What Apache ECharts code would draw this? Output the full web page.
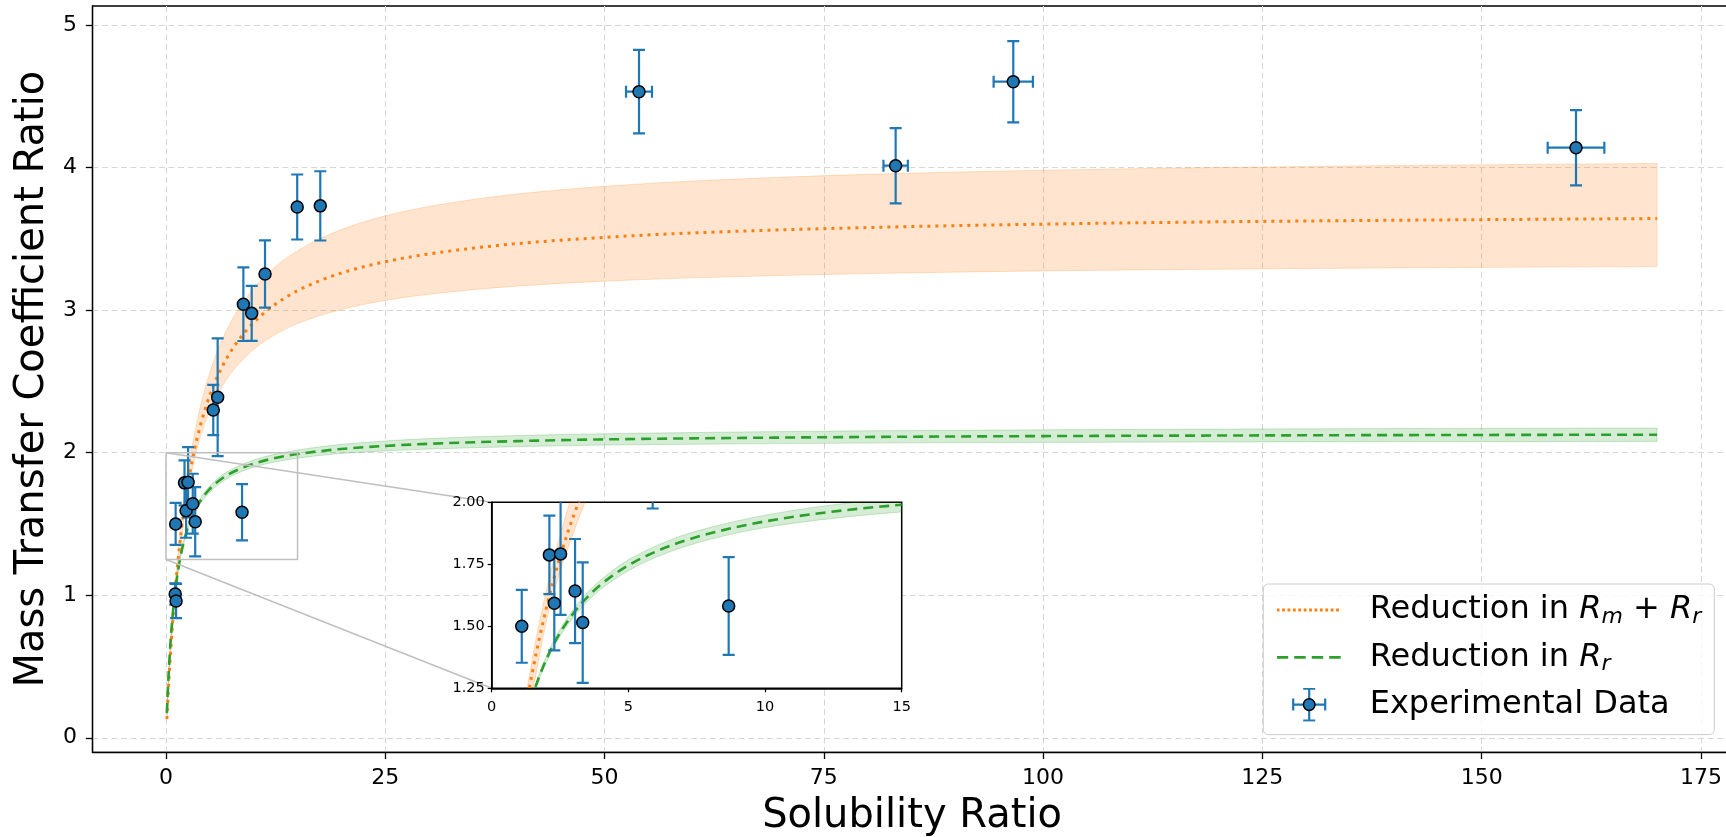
<!DOCTYPE html>
<html>
<head>
<meta charset="utf-8">
<script src="https://cdn.jsdelivr.net/npm/echarts@6/dist/echarts.min.js"></script>
<style>
html, body { margin: 0; padding: 0; background: #ffffff; }
#chart { width: 1726px; height: 837px; }
</style>
</head>
<body>
<div id="chart"></div>
<script>
// ---------------- data ----------------
const curveX  = [0.1, 0.25, 0.5, 0.75, 1, 1.5, 2, 2.5, 3, 3.5, 4, 5, 6, 7, 8, 10, 12, 15, 20, 25, 30, 40, 50, 60, 80, 100, 120, 140, 170];
const rmMid   = [0.132, 0.314, 0.578, 0.804, 1.000, 1.321, 1.574, 1.779, 1.947, 2.089, 2.209, 2.403, 2.552, 2.670, 2.766, 2.913, 3.020, 3.136, 3.260, 3.339, 3.394, 3.466, 3.510, 3.541, 3.579, 3.603, 3.619, 3.630, 3.642];
const rmUpper = [0.134, 0.322, 0.596, 0.830, 1.035, 1.377, 1.645, 1.866, 2.050, 2.208, 2.343, 2.563, 2.733, 2.870, 2.982, 3.154, 3.280, 3.417, 3.565, 3.661, 3.727, 3.814, 3.868, 3.905, 3.952, 3.981, 4.000, 4.014, 4.029];
const rmLower = [0.128, 0.300, 0.548, 0.760, 0.950, 1.235, 1.520, 1.720, 1.880, 2.020, 2.127, 2.295, 2.422, 2.522, 2.602, 2.724, 2.811, 2.905, 3.004, 3.068, 3.111, 3.168, 3.203, 3.226, 3.256, 3.275, 3.287, 3.296, 3.305];
const rMid    = [0.174, 0.388, 0.656, 0.854, 1.005, 1.221, 1.367, 1.474, 1.554, 1.618, 1.669, 1.746, 1.801, 1.843, 1.875, 1.923, 1.956, 1.990, 2.026, 2.047, 2.062, 2.081, 2.093, 2.100, 2.110, 2.116, 2.120, 2.123, 2.126];
const rUpper  = [0.178, 0.393, 0.662, 0.861, 1.013, 1.231, 1.379, 1.488, 1.570, 1.636, 1.688, 1.768, 1.824, 1.867, 1.899, 1.948, 1.983, 2.019, 2.058, 2.082, 2.099, 2.120, 2.133, 2.141, 2.153, 2.160, 2.165, 2.169, 2.173];
const rLower  = [0.170, 0.383, 0.650, 0.847, 0.997, 1.211, 1.355, 1.460, 1.538, 1.600, 1.650, 1.724, 1.778, 1.819, 1.851, 1.898, 1.929, 1.961, 1.994, 2.012, 2.025, 2.042, 2.053, 2.059, 2.067, 2.072, 2.075, 2.077, 2.079];

const pointX    = [1.05, 1.15, 1.10, 2.11, 2.29, 2.52, 3.05, 3.33, 5.39, 5.89, 8.67, 8.82, 9.77, 11.29, 14.96, 17.59, 53.93, 83.19, 96.60, 160.76];
const pointY    = [1.008, 0.959, 1.500, 1.788, 1.593, 1.792, 1.642, 1.515, 2.299, 2.388, 1.582, 3.041, 2.977, 3.253, 3.723, 3.731, 4.532, 4.013, 4.602, 4.139];
const pointYErr = [0.075, 0.120, 0.147, 0.158, 0.190, 0.246, 0.210, 0.243, 0.176, 0.413, 0.197, 0.258, 0.193, 0.236, 0.228, 0.243, 0.293, 0.264, 0.285, 0.264];
const pointXErr = [0, 0, 0, 0, 0, 0, 0, 0, 0, 0, 0, 0, 0, 0, 0, 0, 1.48, 1.39, 2.24, 3.23];

const mainXTicks  = [0, 25, 50, 75, 100, 125, 150, 175];
const mainYTicks  = [0, 1, 2, 3, 4, 5];
const insetXRange = [0, 15];
const insetYRange = [1.25, 2.0];

const NAME_RM  = 'Reduction in Rm + Rr';
const NAME_R   = 'Reduction in Rr';
const NAME_EXP = 'Experimental Data';

// ---------------- styles ----------------
const FONT = 'DejaVu Sans';
const BLUE = '#1f77b4', ORANGE = '#ff7f0e', GREEN = '#2ca02c';
const ORANGE_A = a => 'rgba(255,127,14,' + a + ')';
const GREEN_A  = a => 'rgba(44,160,44,' + a + ')';

function pairs(xs, ys) { return xs.map((x, i) => [x, ys[i]]); }

// smooth monotone cubic through pixel points (rendering only)
function smoothSegs(pts) {
  const n = pts.length, dx = [], s = [], m = [];
  for (let i = 0; i < n - 1; i++) {
    dx[i] = pts[i + 1][0] - pts[i][0];
    s[i] = (pts[i + 1][1] - pts[i][1]) / dx[i];
  }
  m[0] = s[0]; m[n - 1] = s[n - 2];
  for (let i = 1; i < n - 1; i++) {
    if (s[i - 1] * s[i] <= 0) { m[i] = 0; }
    else {
      const w1 = 2 * dx[i] + dx[i - 1], w2 = dx[i] + 2 * dx[i - 1];
      m[i] = (w1 + w2) / (w1 / s[i - 1] + w2 / s[i]);
    }
  }
  let d = '';
  for (let i = 0; i < n - 1; i++) {
    const h = dx[i] / 3;
    d += ' C ' + (pts[i][0] + h) + ' ' + (pts[i][1] + m[i] * h) + ' ' +
         (pts[i + 1][0] - h) + ' ' + (pts[i + 1][1] - m[i + 1] * h) + ' ' +
         pts[i + 1][0] + ' ' + pts[i + 1][1];
  }
  return d;
}
function clipOf(params) {
  const cs = params.coordSys;
  return { type: 'rect', shape: { x: cs.x, y: cs.y, width: cs.width, height: cs.height } };
}

function curveSeries(name, ys, color, width, dash, gi, z) {
  return {
    type: 'custom', name: name, xAxisIndex: gi, yAxisIndex: gi, z: z, silent: true,
    data: pairs(curveX, ys), encode: { x: 0, y: 1 },
    renderItem: function (params, api) {
      if (params.dataIndex !== 0) return null;
      const pts = curveX.map((x, i) => api.coord([x, ys[i]]));
      return { type: 'path', shape: { pathData: 'M ' + pts[0][0] + ' ' + pts[0][1] + smoothSegs(pts) },
        style: { fill: null, stroke: color, lineWidth: width, lineDash: dash, lineCap: 'butt' },
        clipPath: clipOf(params) };
    }
  };
}

function bandSeries(key, upper, lower, colorFn, gi, z) {
  return {
    type: 'custom', name: key + gi, xAxisIndex: gi, yAxisIndex: gi, z: z, silent: true,
    data: pairs(curveX, upper), encode: { x: 0, y: 1 },
    renderItem: function (params, api) {
      if (params.dataIndex !== 0) return null;
      const up = curveX.map((x, i) => api.coord([x, upper[i]]));
      const lo = curveX.map((x, i) => api.coord([x, lower[i]])).reverse();
      const d = 'M ' + up[0][0] + ' ' + up[0][1] + smoothSegs(up) +
                ' L ' + lo[0][0] + ' ' + lo[0][1] + smoothSegs(lo) + ' Z';
      return { type: 'path', shape: { pathData: d },
        style: { fill: colorFn(0.2), stroke: colorFn(0.22), lineWidth: 1 },
        clipPath: clipOf(params) };
    }
  };
}

function errSeries(gi, z) {
  return {
    type: 'custom', name: 'errbars' + gi, xAxisIndex: gi, yAxisIndex: gi, z: z, silent: true,
    data: pointX.map((x, i) => [x, pointY[i], pointXErr[i], pointYErr[i]]),
    encode: { x: 0, y: 1 },
    renderItem: function (params, api) {
      const x = api.value(0), y = api.value(1), xe = api.value(2), ye = api.value(3);
      const st = { stroke: BLUE, lineWidth: 2.2, fill: null };
      const h = 6;
      const ch = [];
      if (ye > 0) {
        const t = api.coord([x, y + ye]), b = api.coord([x, y - ye]);
        ch.push({ type: 'line', shape: { x1: t[0], y1: t[1], x2: b[0], y2: b[1] }, style: st });
        ch.push({ type: 'line', shape: { x1: t[0] - h, y1: t[1], x2: t[0] + h, y2: t[1] }, style: st });
        ch.push({ type: 'line', shape: { x1: b[0] - h, y1: b[1], x2: b[0] + h, y2: b[1] }, style: st });
      }
      if (xe > 0) {
        const l = api.coord([x - xe, y]), r = api.coord([x + xe, y]);
        ch.push({ type: 'line', shape: { x1: l[0], y1: l[1], x2: r[0], y2: r[1] }, style: st });
        ch.push({ type: 'line', shape: { x1: l[0], y1: l[1] - h, x2: l[0], y2: l[1] + h }, style: st });
        ch.push({ type: 'line', shape: { x1: r[0], y1: r[1] - h, x2: r[0], y2: r[1] + h }, style: st });
      }
      return { type: 'group', children: ch, clipPath: clipOf(params) };
    }
  };
}

function scatterSeries(gi, z) {
  return {
    type: 'scatter', name: NAME_EXP, xAxisIndex: gi, yAxisIndex: gi, z: z, silent: true,
    data: pairs(pointX, pointY), symbol: 'circle', symbolSize: 12, clip: true,
    itemStyle: { color: BLUE, borderColor: '#000000', borderWidth: 1.5, opacity: 1 }
  };
}

// legend icons (SVG images)
function svgIcon(body) {
  const s = "<svg xmlns='http://www.w3.org/2000/svg' width='65' height='34' viewBox='0 0 65 34'>" + body + "</svg>";
  return 'image://data:image/svg+xml;charset=utf-8,' + encodeURIComponent(s);
}
const iconDotted = svgIcon("<line x1='0' y1='17' x2='65' y2='17' stroke='" + ORANGE + "' stroke-width='2.8' stroke-dasharray='2.8 2.6'/>");
const iconDashed = svgIcon("<line x1='0' y1='17' x2='65' y2='17' stroke='" + GREEN + "' stroke-width='2.7' stroke-dasharray='11.5 6'/>");
const iconErr = svgIcon(
  "<g stroke='" + BLUE + "' stroke-width='2.2' fill='none'>" +
  "<line x1='32.5' y1='1' x2='32.5' y2='33'/><line x1='26.5' y1='1' x2='38.5' y2='1'/><line x1='26.5' y1='33' x2='38.5' y2='33'/>" +
  "<line x1='16.5' y1='17' x2='48.5' y2='17'/><line x1='16.5' y1='11' x2='16.5' y2='23'/><line x1='48.5' y1='11' x2='48.5' y2='23'/>" +
  "</g><circle cx='32.5' cy='17' r='5.8' fill='" + BLUE + "' stroke='#000' stroke-width='1.5'/>");

const axisBlack = { color: '#000000', width: 1.3 };
const gridLine = { show: true, lineStyle: { color: '#d6d6d6', width: 1, type: [6, 3.5] } };

const option = {
  animation: false,
  backgroundColor: '#ffffff',
  grid: [
    { left: 92.5, top: 6, right: -5.6, bottom: 84.7, show: true, borderColor: '#000000', borderWidth: 1.3,
      backgroundColor: 'transparent', containLabel: false, outerBoundsMode: 'none' },
    { left: 491.7, top: 502.3, width: 410, height: 186, show: true, borderColor: '#000000', borderWidth: 1.5,
      backgroundColor: '#ffffff', containLabel: false, outerBoundsMode: 'none', z: 10 }
  ],
  xAxis: [
    { gridIndex: 0, type: 'value', min: -8.38, max: 178.5,
      axisLine: { show: true, onZero: false, lineStyle: axisBlack },
      axisTick: { show: true, length: 6.7, customValues: mainXTicks, lineStyle: axisBlack },
      axisLabel: { customValues: mainXTicks, fontSize: 22, fontFamily: FONT, color: '#000000', margin: 15 },
      splitLine: gridLine,
      name: 'Solubility Ratio', nameLocation: 'middle', nameGap: 44.5, nameMoveOverlap: false,
      nameTextStyle: { fontSize: 40, fontFamily: FONT, color: '#000000' } },
    { gridIndex: 1, type: 'value', min: insetXRange[0], max: insetXRange[1], interval: 5, z: 11,
      axisLine: { show: true, onZero: false, lineStyle: { color: '#000000', width: 1.5 } },
      axisTick: { show: true, length: 4, lineStyle: { color: '#000000', width: 1.2 } },
      axisLabel: { fontSize: 14.5, fontFamily: FONT, color: '#000000', margin: 11 },
      splitLine: { show: false } }
  ],
  yAxis: [
    { gridIndex: 0, type: 'value', min: -0.102, max: 5.133,
      axisLine: { show: true, onZero: false, lineStyle: axisBlack },
      axisTick: { show: true, length: 6.7, customValues: mainYTicks, lineStyle: axisBlack },
      axisLabel: { customValues: mainYTicks, fontSize: 22, fontFamily: FONT, color: '#000000', margin: 15.5 },
      splitLine: gridLine,
      name: 'Mass Transfer Coefficient Ratio', nameLocation: 'middle', nameGap: 40, nameMoveOverlap: false,
      nameTextStyle: { fontSize: 40, fontFamily: FONT, color: '#000000' } },
    { gridIndex: 1, type: 'value', min: insetYRange[0], max: insetYRange[1], interval: 0.25, z: 11,
      axisLine: { show: true, onZero: false, lineStyle: { color: '#000000', width: 1.5 } },
      axisTick: { show: true, length: 4, lineStyle: { color: '#000000', width: 1.2 } },
      axisLabel: { fontSize: 14.5, fontFamily: FONT, color: '#000000', margin: 7,
        formatter: v => v.toFixed(2) },
      splitLine: { show: false } }
  ],
  legend: {
    orient: 'vertical', left: 1263.3, top: 584, z: 20,
    padding: [8, 13, 12, 13.4], itemGap: 11.3, itemWidth: 65, itemHeight: 34,
    backgroundColor: 'rgba(255,255,255,0.8)', borderColor: '#cccccc', borderWidth: 1, borderRadius: 5,
    selectedMode: false,
    data: [ { name: NAME_RM, icon: iconDotted }, { name: NAME_R, icon: iconDashed }, { name: NAME_EXP, icon: iconErr } ],
    formatter: function (name) {
      if (name === NAME_RM) return 'Reduction in {it|R}{sub|m}{op| + }{it|R}{sub|r}';
      if (name === NAME_R) return 'Reduction in {it|R}{sub|r}';
      return name;
    },
    textStyle: {
      fontSize: 32, fontFamily: FONT, color: '#000000', lineHeight: 36, padding: [0, 0, 0, 23],
      rich: {
        it: { fontStyle: 'italic', fontSize: 32, fontFamily: FONT, color: '#000000', lineHeight: 36 },
        sub: { fontStyle: 'italic', fontSize: 22, fontFamily: FONT, color: '#000000', verticalAlign: 'bottom' },
        op: { fontSize: 32, fontFamily: FONT, color: '#000000', lineHeight: 36 }
      }
    }
  },
  series: [
    // main plot
    bandSeries('bandRm', rmUpper, rmLower, ORANGE_A, 0, 1),
    bandSeries('bandR', rUpper, rLower, GREEN_A, 0, 1),
    curveSeries(NAME_RM, rmMid, ORANGE, 3, [3, 5], 0, 2),
    curveSeries(NAME_R, rMid, GREEN, 2.6, [10, 6], 0, 2),
    errSeries(0, 3),
    scatterSeries(0, 4),
    { type: 'line', name: 'zoomBox', xAxisIndex: 0, yAxisIndex: 0, z: 5, silent: true,
      symbol: 'none', showSymbol: false,
      data: [[insetXRange[0], insetYRange[1]], [insetXRange[1], insetYRange[1]], [insetXRange[1], insetYRange[0]],
             [insetXRange[0], insetYRange[0]], [insetXRange[0], insetYRange[1]]],
      lineStyle: { color: '#bfbfbf', width: 1.5 } },
    // inset
    bandSeries('bandRm', rmUpper, rmLower, ORANGE_A, 1, 12),
    bandSeries('bandR', rUpper, rLower, GREEN_A, 1, 12),
    curveSeries(NAME_RM, rmMid, ORANGE, 3, [3, 5], 1, 13),
    curveSeries(NAME_R, rMid, GREEN, 2.6, [10, 6], 1, 13),
    errSeries(1, 14),
    scatterSeries(1, 15)
  ]
};

const chart = echarts.init(document.getElementById('chart'), null, { renderer: 'canvas' });
chart.setOption(option);

// connector lines between the zoom box and the inset corners
const a1 = chart.convertToPixel({ gridIndex: 0 }, [insetXRange[0], insetYRange[1]]);
const a2 = chart.convertToPixel({ gridIndex: 0 }, [insetXRange[0], insetYRange[0]]);
const b1 = chart.convertToPixel({ gridIndex: 1 }, [insetXRange[0], insetYRange[1]]);
const b2 = chart.convertToPixel({ gridIndex: 1 }, [insetXRange[0], insetYRange[0]]);
chart.setOption({
  graphic: [
    { type: 'line', z: 5, silent: true, shape: { x1: a1[0], y1: a1[1], x2: b1[0], y2: b1[1] },
      style: { stroke: '#bfbfbf', lineWidth: 1.5 } },
    { type: 'line', z: 5, silent: true, shape: { x1: a2[0], y1: a2[1], x2: b2[0], y2: b2[1] },
      style: { stroke: '#bfbfbf', lineWidth: 1.5 } }
  ]
});
</script>
</body>
</html>
